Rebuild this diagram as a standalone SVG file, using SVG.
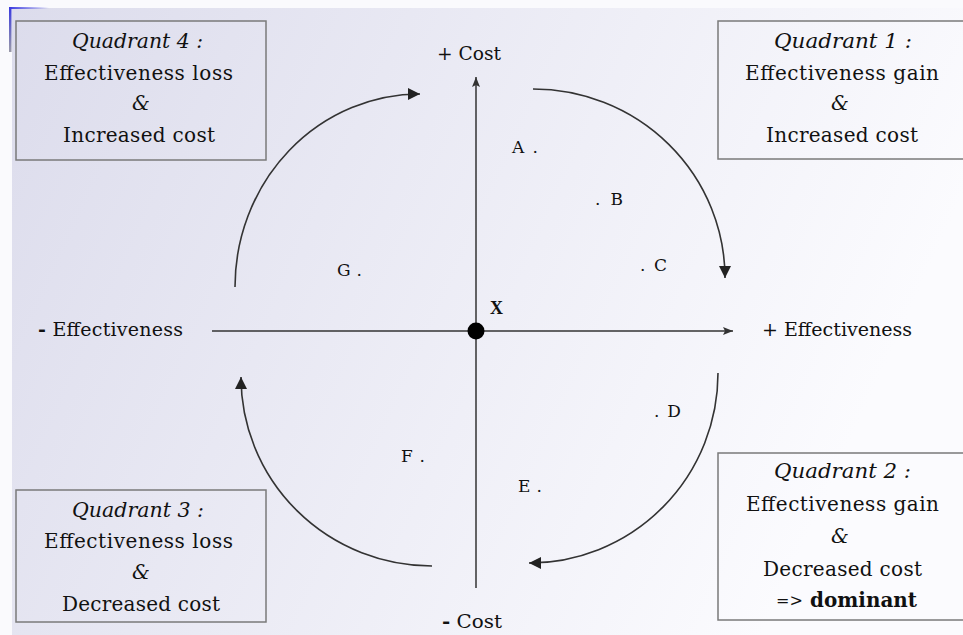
<svg xmlns="http://www.w3.org/2000/svg" width="963" height="635" viewBox="0 0 963 635">
<defs>
<linearGradient id="bg" x1="0" y1="0" x2="1" y2="0.3">
<stop offset="0" stop-color="#dcdcec"/>
<stop offset="1" stop-color="#fbfbfe"/>
</linearGradient>
<linearGradient id="bh" x1="0" y1="0" x2="1" y2="0">
<stop offset="0" stop-color="#3a3ae0"/>
<stop offset="1" stop-color="#3a3ae0" stop-opacity="0"/>
</linearGradient>
<linearGradient id="bv" x1="0" y1="0" x2="0" y2="1">
<stop offset="0" stop-color="#3a3ae0"/>
<stop offset="1" stop-color="#9a9aa8"/>
</linearGradient>
<marker id="ah" markerUnits="userSpaceOnUse" markerWidth="14" markerHeight="14" viewBox="0 0 14 14" refX="12" refY="7" orient="auto">
<path d="M0,1 L12,7 L0,13 Z" fill="#222"/>
</marker>
<marker id="ax" markerUnits="userSpaceOnUse" markerWidth="12" markerHeight="10" viewBox="0 0 12 10" refX="10" refY="5" orient="auto">
<path d="M0,1 L10,5 L0,9 L2,5 Z" fill="#333"/>
</marker>
</defs>
<style>
.t{font-family:"DejaVu Serif","Liberation Serif",serif;font-size:20px;fill:#111}
.a{font-family:"DejaVu Serif","Liberation Serif",serif;font-size:19px;fill:#111}
.i{font-style:italic}
.b{font-weight:bold}
.p{font-family:"DejaVu Serif","Liberation Serif",serif;font-size:17px;fill:#111}
.box{fill:none;stroke:#7a7a7a;stroke-width:1.5}
.arc{fill:none;stroke:#333;stroke-width:1.6;marker-end:url(#ah)}
.axis{fill:none;stroke:#333;stroke-width:1.5}
</style>
<rect x="0" y="0" width="963" height="635" fill="#fafafd"/>
<rect x="12" y="8" width="951" height="627" fill="url(#bg)"/>
<rect x="9" y="7" width="40" height="2" fill="url(#bh)"/>
<rect x="9" y="7" width="2.5" height="45" fill="url(#bv)"/>

<g id="connectors">
<path class="axis" d="M476,588 L476,77" marker-end="url(#ax)"/>
<path class="axis" d="M212,331 L733,331" marker-end="url(#ax)"/>
<path id="arc1" class="arc" d="M533,89 A192,189 0 0 1 725,278"/>
<path id="arc2" class="arc" d="M718,373 A189,190 0 0 1 529,563"/>
<path id="arc3" class="arc" d="M432,566 A191,189 0 0 1 241,377"/>
<path id="arc4" class="arc" d="M235,287 A185,193 0 0 1 420,94"/>
</g>

<g id="origin">
<circle cx="476" cy="331" r="8.5" fill="#000"/>
<text x="490" y="314" font-family="Liberation Serif, serif" font-size="18" font-weight="bold" fill="#111">X</text>
</g>

<g id="axis-labels">
<text class="a" x="437" y="60" textLength="64" lengthAdjust="spacingAndGlyphs">+ Cost</text>
<text class="a" x="442" y="628" textLength="60" lengthAdjust="spacingAndGlyphs"><tspan class="b">-</tspan> Cost</text>
<text class="a" x="38" y="336" textLength="145" lengthAdjust="spacing"><tspan class="b">-</tspan> Effectiveness</text>
<text class="a" x="762" y="336" textLength="150" lengthAdjust="spacingAndGlyphs">+ Effectiveness</text>
</g>

<g id="q4">
<rect class="box" x="16" y="21" width="250" height="139"/>
<text class="t i" x="72" y="48" textLength="131" lengthAdjust="spacingAndGlyphs">Quadrant 4 :</text>
<text class="t" x="44" y="80" textLength="189" lengthAdjust="spacing">Effectiveness loss</text>
<text class="t i" x="141" y="110" text-anchor="middle">&amp;</text>
<text class="t" x="63" y="142" textLength="152" lengthAdjust="spacing">Increased cost</text>
</g>

<g id="q1">
<rect class="box" x="718" y="21" width="246" height="138"/>
<text class="t i" x="774" y="48" textLength="138" lengthAdjust="spacingAndGlyphs">Quadrant 1 :</text>
<text class="t" x="745" y="80" textLength="194" lengthAdjust="spacing">Effectiveness gain</text>
<text class="t i" x="840" y="110" text-anchor="middle">&amp;</text>
<text class="t" x="766" y="142" textLength="152" lengthAdjust="spacing">Increased cost</text>
</g>

<g id="q3">
<rect class="box" x="16" y="490" width="250" height="132"/>
<text class="t i" x="72" y="517" textLength="132" lengthAdjust="spacingAndGlyphs">Quadrant 3 :</text>
<text class="t" x="44" y="548" textLength="189" lengthAdjust="spacing">Effectiveness loss</text>
<text class="t i" x="141" y="579" text-anchor="middle">&amp;</text>
<text class="t" x="62" y="611" textLength="158" lengthAdjust="spacing">Decreased cost</text>
</g>

<g id="q2">
<rect class="box" x="718" y="453" width="246" height="167"/>
<text class="t i" x="774" y="478" textLength="137" lengthAdjust="spacingAndGlyphs">Quadrant 2 :</text>
<text class="t" x="746" y="511" textLength="193" lengthAdjust="spacing">Effectiveness gain</text>
<text class="t i" x="840" y="543" text-anchor="middle">&amp;</text>
<text class="t" x="763" y="576" textLength="159" lengthAdjust="spacing">Decreased cost</text>
<text x="776" y="606" font-family="DejaVu Serif, Liberation Serif, serif" font-size="16" fill="#111">=&gt;</text>
<text class="t b" x="810" y="607" textLength="107" lengthAdjust="spacingAndGlyphs">dominant</text>
</g>

<g id="points">
<text class="p" x="512" y="153" textLength="26" lengthAdjust="spacing">A .</text>
<text class="p" x="595" y="205" textLength="28" lengthAdjust="spacing">. B</text>
<text class="p" x="640" y="271" textLength="27" lengthAdjust="spacing">. C</text>
<text class="p" x="337" y="276" textLength="25" lengthAdjust="spacing">G .</text>
<text class="p" x="654" y="417" textLength="27" lengthAdjust="spacing">. D</text>
<text class="p" x="401" y="462" textLength="24" lengthAdjust="spacing">F .</text>
<text class="p" x="518" y="492" textLength="24" lengthAdjust="spacing">E .</text>
</g>
</svg>
